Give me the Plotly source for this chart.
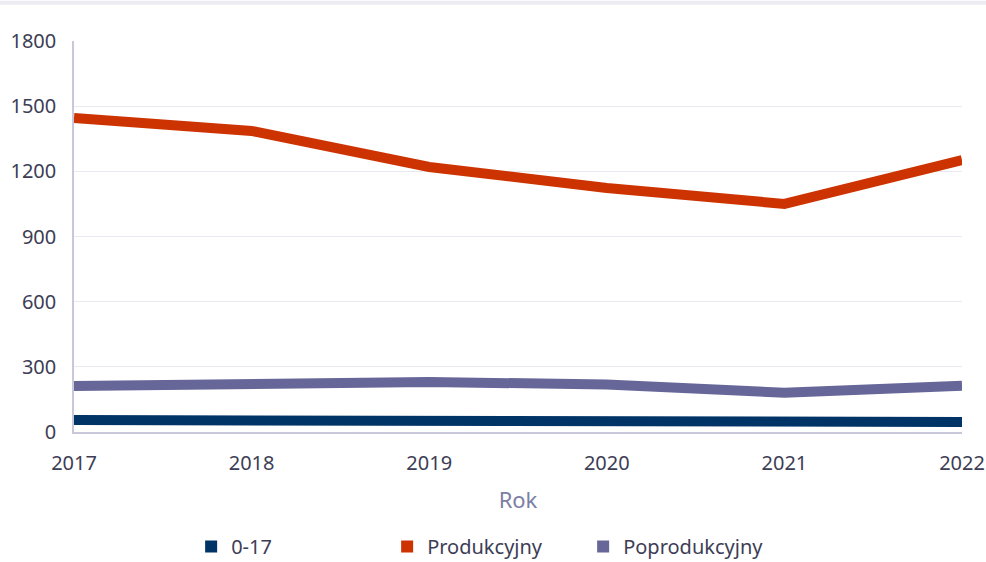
import plotly.graph_objects as go

years = [2017, 2018, 2019, 2020, 2021, 2022]
kids = [55, 54, 47, 47, 43, 46]
produkcyjny = [1445, 1386, 1220, 1123, 1050, 1252]
poprodukcyjny = [212, 221, 230, 219, 181, 213]
y_ticks = [0, 300, 600, 900, 1200, 1500, 1800]

series = [
    ("0-17", kids, "#003366"),
    ("Produkcyjny", produkcyjny, "#cc3300"),
    ("Poprodukcyjny", poprodukcyjny, "#666699"),
]

fig = go.Figure()
for name, vals, col in series:
    fig.add_trace(go.Scatter(x=years, y=vals, mode="lines", name=name,
                             line=dict(color=col, width=10), showlegend=False))
for name, vals, col in series:
    fig.add_trace(go.Scatter(x=[None], y=[None], mode="markers", name=name,
                             marker=dict(symbol="square", size=12, color=col)))

fig.update_layout(
    width=986, height=562,
    margin=dict(l=74, r=24, t=41, b=130, autoexpand=False),
    paper_bgcolor="white", plot_bgcolor="white",
    font=dict(family="Noto Sans", size=20, color="#3d3d55"),
    legend=dict(orientation="h", x=0.463, xanchor="center", y=-0.243, yanchor="top",
                entrywidth=151, entrywidthmode="pixels",
                font=dict(size=20, color="#3d3d55")),
    xaxis=dict(range=[2017, 2022], tickvals=years, showgrid=False,
               showline=True, linecolor="#c8c8da", linewidth=1.5,
               ticklabelstandoff=12, zeroline=False,
               title=dict(text="Rok", font=dict(size=22, color="#7b7fa5"), standoff=18)),
    yaxis=dict(range=[0, 1800], tickvals=y_ticks, showgrid=True, gridcolor="#e8e8ef",
               showline=True, linecolor="#c8c8da", linewidth=1.5, zeroline=False,
               ticklabelstandoff=12),
    shapes=[dict(type="line", xref="paper", yref="paper", x0=-0.1, x1=1.05,
                 y0=1.098, y1=1.098, line=dict(color="#ececf2", width=4))],
)

fig.write_html("out.html", config={"displayModeBar": False},
               post_script="document.body.style.margin='0';")
